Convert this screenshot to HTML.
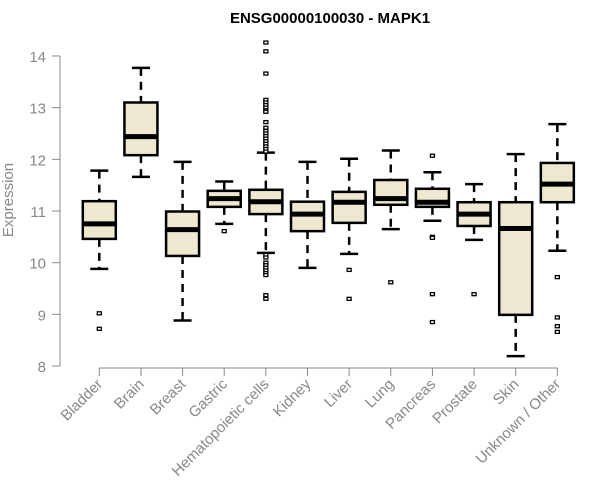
<!DOCTYPE html>
<html><head><meta charset="utf-8"><style>body{margin:0;background:#fff}svg{display:block}</style></head>
<body>
<svg id="chart" width="600" height="500" xmlns="http://www.w3.org/2000/svg" font-family="Liberation Sans, sans-serif">
<text x="330" y="23" text-anchor="middle" font-size="15" font-weight="bold">ENSG00000100030 - MAPK1</text>
<text transform="translate(13,200) rotate(-90)" text-anchor="middle" font-size="15" fill="#888">Expression</text>
<g id="axes"></g><g id="plot"></g>
</svg>
<script>
const categories=["Bladder","Brain","Breast","Gastric","Hematopoietic cells","Kidney","Liver","Lung","Pancreas","Prostate","Skin","Unknown / Other"];
const whiskerLow=[9.88,11.66,8.88,10.75,10.19,9.90,10.17,10.65,10.81,10.44,8.19,10.23];
const q1=[10.46,12.08,10.13,11.08,10.94,10.61,10.77,11.12,11.08,10.71,8.99,11.17];
const medians=[10.75,12.44,10.64,11.24,11.18,10.94,11.17,11.24,11.17,10.94,10.66,11.52];
const q3=[11.19,13.10,10.99,11.39,11.41,11.18,11.37,11.60,11.43,11.17,11.17,11.93];
const whiskerHigh=[11.78,13.77,11.95,11.57,12.13,11.95,12.01,12.17,11.75,11.52,12.10,12.68];
const outliers=[[9.02,8.72],[],[],[10.61],
[14.26,14.09,13.66,13.15,13.1,13.05,13.0,12.95,12.92,12.72,12.61,12.55,12.5,12.45,12.4,12.35,12.3,12.25,12.2,12.15,10.15,10.1,10.0,9.95,9.9,9.85,9.8,9.76,9.37,9.3],
[],[9.86,9.30],[9.62],[12.07,10.5,10.48,9.39,8.85],[9.39],[],[9.72,8.94,8.77,8.66]];
const yTicks=[8,9,10,11,12,13,14];
const NS="http://www.w3.org/2000/svg";
const y=v=>366-(v-8)*51.67;
const x=i=>99.3+41.64*i;
function mk(tag,attrs,parent){const e=document.createElementNS(NS,tag);for(const k in attrs)e.setAttribute(k,attrs[k]);parent.appendChild(e);return e;}
const ax=document.getElementById('axes'),pl=document.getElementById('plot');
let l=mk('line',{x1:60,x2:60,y1:y(14),y2:y(8),stroke:'#888'},ax);


yTicks.forEach(t=>{
 const tk=mk('line',{x1:52,x2:60,y1:y(t),y2:y(t),stroke:'#888'},ax);
 
 
 const tx=mk('text',{x:46,y:y(t)+6,'text-anchor':'end','font-size':15,fill:'#888'},ax);
 tx.textContent=t;
 
 
});
l=mk('line',{x1:x(0),x2:x(11),y1:368,y2:368,stroke:'#888'},ax);


categories.forEach((c,i)=>{
 const cx=x(i);
 const tk=mk('line',{x1:cx,x2:cx,y1:368,y2:376,stroke:'#888'},ax);
 
 
 const tx=mk('text',{x:cx+4,y:385,'text-anchor':'end','font-size':15,fill:'#888',transform:`rotate(-45 ${cx+4} 385)`},ax);
 tx.textContent=c;
 
 
 const g=mk('g',{},pl);
 
 
 mk('line',{x1:cx,x2:cx,y1:y(whiskerHigh[i]),y2:y(q3[i]),stroke:'#000','stroke-width':2.5,'stroke-dasharray':'8,6'},g);
 mk('line',{x1:cx,x2:cx,y1:y(q1[i]),y2:y(whiskerLow[i]),stroke:'#000','stroke-width':2.5,'stroke-dasharray':'8,6'},g);
 mk('line',{x1:cx-9,x2:cx+9,y1:y(whiskerHigh[i]),y2:y(whiskerHigh[i]),stroke:'#000','stroke-width':2.5},g);
 mk('line',{x1:cx-9,x2:cx+9,y1:y(whiskerLow[i]),y2:y(whiskerLow[i]),stroke:'#000','stroke-width':2.5},g);
 mk('rect',{x:cx-16.5,y:y(q3[i]),width:33,height:y(q1[i])-y(q3[i]),fill:'#ede8cf',stroke:'#000','stroke-width':2.5},g);
 mk('line',{x1:cx-16.5,x2:cx+16.5,y1:y(medians[i]),y2:y(medians[i]),stroke:'#000','stroke-width':5},g);
 outliers[i].forEach(o=>{
  const p=mk('rect',{x:cx-2,y:y(o)-1.5,width:4,height:3,fill:'#fff',stroke:'#000','stroke-width':1.3},g);
  
  
 });
});
</script>
</body></html>
